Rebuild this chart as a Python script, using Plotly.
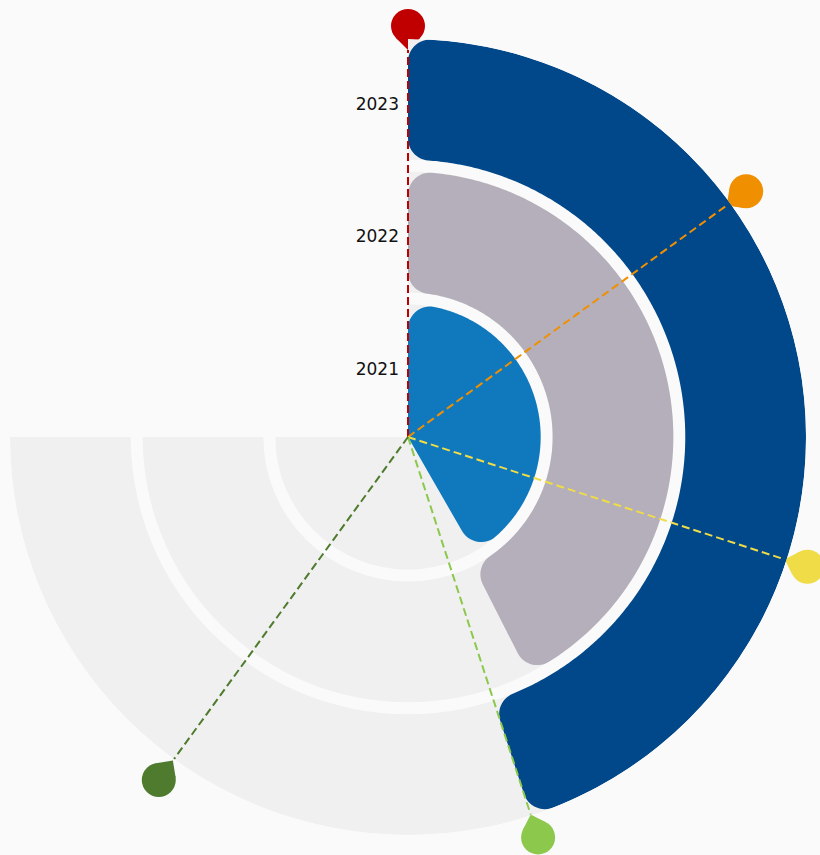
import numpy as np
import plotly.graph_objects as go

# ---------------- data ----------------
YEARS = ["2021", "2022", "2023"]
VALUES = [55.6, 56.7, 60.0]            # angular values, axis max = ANGLE_MAX
ANGLE_MAX = 100
PIN_VALUES = [0, 20, 40, 60, 80]       # angular split positions marked with pins

# ---------------- style ----------------
BAR_COLORS = ["#1079be", "#b4afba", "#01488b"]
PIN_COLORS = ["#c00000", "#f09000", "#efdc46", "#8bc84b", "#4e7b2e"]
PIN_HEAD_PX = [411, 418, 420, 421, 424]   # distance of each pin head from centre, px
BG_RING = "#f0f0f0"
PAGE = "#fafafa"
SWEEP = 270.0                          # degrees covered by the angular axis
GAP = 0.09                             # radial gap between rings (axis units)

W, H = 820, 855
CX, CY = 408, 437                      # polar centre in page px (from top-left)
RPX = 398                              # polar radius, px
RMAX = 3.0
PX = RPX / RMAX                        # px per radial unit


def deg(v):
    return v / ANGLE_MAX * SWEEP


def u(a):
    return np.array([np.sin(a), np.cos(a)])


def nrm(a):
    return np.array([np.cos(a), -np.sin(a)])


def fillet(C, p_from, p_to, n=14):
    a0 = np.arctan2(*(p_from - C)[::-1])
    a1 = np.arctan2(*(p_to - C)[::-1])
    d = (a1 - a0 + np.pi) % (2 * np.pi) - np.pi
    rad = np.hypot(*(p_from - C))
    ks = np.linspace(0, 1, n)
    return [C + rad * np.array([np.cos(a0 + d * k), np.sin(a0 + d * k)]) for k in ks]


def cw_angle(p):
    return np.arctan2(p[0], p[1])


def arc(rad, s, e, step=np.radians(0.5)):
    n = max(int(abs(e - s) / step), 2)
    return [rad * u(a) for a in np.linspace(s, e, n)]


def rounded_sector(r0, r1, a0, a1, c, c_apex):
    pts = []
    t = np.sqrt((r1 - c) ** 2 - c ** 2)
    C1 = t * u(a0) + c * nrm(a0)
    P1l, P1a = t * u(a0), C1 * r1 / (r1 - c)
    C2 = t * u(a1) - c * nrm(a1)
    P2l, P2a = t * u(a1), C2 * r1 / (r1 - c)
    pts += fillet(C1, P1l, P1a)
    s, e = cw_angle(P1a), cw_angle(P2a)
    if e < s:
        e += 2 * np.pi
    pts += arc(r1, s, e)
    pts += fillet(C2, P2a, P2l)
    if r0 > 0:
        t0 = np.sqrt((r0 + c) ** 2 - c ** 2)
        C3 = t0 * u(a1) - c * nrm(a1)
        P3l, P3a = t0 * u(a1), C3 * r0 / (r0 + c)
        C4 = t0 * u(a0) + c * nrm(a0)
        P4l, P4a = t0 * u(a0), C4 * r0 / (r0 + c)
        pts += fillet(C3, P3l, P3a)
        s2, e2 = cw_angle(P3a), cw_angle(P4a)
        if s2 < e2:
            s2 += 2 * np.pi
        pts += arc(r0, s2, e2)
        pts += fillet(C4, P4a, P4l)
    else:
        phi = (a1 - a0) / 2
        bis = (a0 + a1) / 2
        C5 = (c_apex / np.sin(phi)) * u(bis)
        tl = c_apex / np.tan(phi)
        pts += fillet(C5, tl * u(a1), tl * u(a0))
    pts.append(pts[0])
    pts = np.array(pts)
    r = np.hypot(pts[:, 0], pts[:, 1]) / PX
    th = np.degrees(np.arctan2(pts[:, 0], pts[:, 1]))
    return r, th


fig = go.Figure()

# ---- pins: drawn on an overlaid pixel-scaled cartesian frame centred on the polar centre
pin_th = np.array([deg(p) for p in PIN_VALUES])
head = np.array(PIN_HEAD_PX, dtype=float)
TIP_OFF = 12.0                         # px from head centre to diamond centre
sin_t, cos_t = np.sin(np.radians(pin_th)), np.cos(np.radians(pin_th))
fig.add_trace(go.Scatter(
    x=(head - TIP_OFF) * sin_t, y=(head - TIP_OFF) * cos_t, mode="markers",
    marker=dict(symbol="diamond", size=18.5, color=PIN_COLORS, angle=list(pin_th),
                line=dict(width=0)),
    cliponaxis=False, hoverinfo="skip", showlegend=False))
fig.add_trace(go.Scatter(
    x=head * sin_t, y=head * cos_t, mode="markers",
    marker=dict(symbol="circle", size=34, color=PIN_COLORS, line=dict(width=0)),
    cliponaxis=False, hoverinfo="skip", showlegend=False))

# category labels (left of the radial line)
fig.add_trace(go.Scatter(
    x=[-9] * len(YEARS), y=[(i + 0.5) * PX for i in range(len(YEARS))],
    mode="text", text=YEARS, textposition="middle left",
    textfont=dict(family="DejaVu Sans", size=17, color="#111111"),
    cliponaxis=False, hoverinfo="skip", showlegend=False))

inner = [i + (GAP if i else 0.0) for i in range(len(YEARS))]
outer = [i + 1.0 for i in range(len(YEARS))]

# background rings
fig.add_trace(go.Barpolar(
    theta=[SWEEP / 2] * len(YEARS), width=[SWEEP] * len(YEARS),
    base=inner, r=[o - b for o, b in zip(outer, inner)],
    marker=dict(color=BG_RING, line=dict(width=0)),
    hoverinfo="skip", showlegend=False))

# value bars with rounded corners
for yr, v, col, b, o in zip(YEARS, VALUES, BAR_COLORS, inner, outer):
    r, th = rounded_sector(b * PX, o * PX, 0.0, np.radians(deg(v)), 22, 14)
    fig.add_trace(go.Scatterpolar(
        r=r, theta=th, mode="lines", fill="toself", fillcolor=col,
        line=dict(width=0, color=col), name=yr, hoverinfo="name",
        showlegend=False))

# dashed split lines, from the centre to each pin tip
for pv, col, hp in zip(PIN_VALUES, PIN_COLORS, head):
    fig.add_trace(go.Scatterpolar(
        r=[0, (hp - 2 * TIP_OFF) / PX], theta=[deg(pv)] * 2, mode="lines",
        line=dict(color=col, width=2, dash="8px,4px"),
        hoverinfo="skip", showlegend=False))

fig.update_layout(
    width=W, height=H,
    margin=dict(l=0, r=0, t=0, b=0, pad=0),
    paper_bgcolor=PAGE, plot_bgcolor="rgba(0,0,0,0)",
    showlegend=False,
    xaxis=dict(range=[-CX, W - CX], domain=[0, 1], visible=False, fixedrange=True),
    yaxis=dict(range=[-(H - CY), CY], domain=[0, 1], visible=False, fixedrange=True),
    polar=dict(
        domain=dict(x=[(CX - RPX) / W, (CX + RPX) / W],
                    y=[(H - CY - RPX) / H, (H - CY + RPX) / H]),
        bgcolor="rgba(0,0,0,0)",
        angularaxis=dict(rotation=90, direction="clockwise", visible=False,
                         showgrid=False),
        radialaxis=dict(range=[0, RMAX], visible=False, showgrid=False),
    ),
)

fig.write_html(
    "out.html",
    config={"displayModeBar": False},
    post_script="document.body.style.margin='0';"
                "document.body.style.background='#fafafa';",
)
